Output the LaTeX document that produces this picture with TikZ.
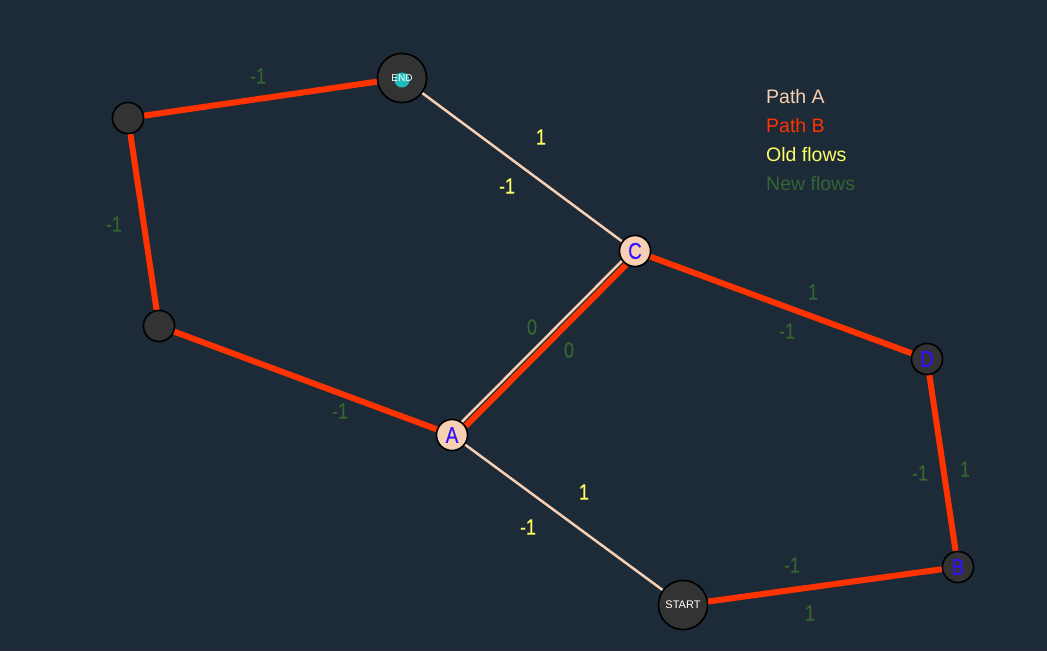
\documentclass[tikz,border=0pt]{standalone}
\usepackage{fontspec}
\setmainfont{Liberation Sans}
\newfontfamily\condfont[FakeStretch=0.82,FakeBold=0.4]{Liberation Sans}
\definecolor{bg}{HTML}{1D2A38}
\definecolor{peach}{HTML}{F7CFB2}
\definecolor{pathb}{HTML}{FF3300}
\definecolor{oldf}{HTML}{FFFF66}
\definecolor{newf}{HTML}{336633}
\definecolor{nodegray}{HTML}{333333}
\definecolor{nodetext}{HTML}{3311FF}
\definecolor{teal}{HTML}{22BBBB}
\begin{document}
\begin{tikzpicture}[x=1pt,y=-1pt,
  vtx/.style={circle,draw=black,line width=1.5pt,fill=nodegray,minimum size=31pt,inner sep=0pt,text=nodetext,font=\condfont\fontsize{23}{23}\selectfont},
  pvtx/.style={vtx,fill=peach},
  bigvtx/.style={circle,draw=black,line width=1.5pt,fill=nodegray,minimum size=49pt,inner sep=0pt,text=white},
  redge/.style={draw=pathb,line width=6pt},
  pedge/.style={draw=peach,line width=2.5pt},
  nlab/.style={text=newf,font=\condfont\fontsize{22}{22}\selectfont,inner sep=0pt},
  olab/.style={text=oldf,font=\condfont\fontsize{22}{22}\selectfont,inner sep=0pt},
  leg/.style={anchor=west,font=\fontsize{19.5}{19.5}\selectfont,inner sep=0pt}]
\fill[bg] (0,0) rectangle (1047,651);
\useasboundingbox (0,0) rectangle (1047,651);
% nodes (placed first to name them)
\node[bigvtx] (END) at (402,78) {};
\node[vtx] (TL) at (128,118) {};
\node[vtx] (L) at (159,326) {};
\node[pvtx] (A) at (452,435) {};
\node[pvtx] (C) at (635,251) {};
\node[vtx] (D) at (927,359) {};
\node[vtx] (B) at (958,567) {};
\node[bigvtx] (START) at (683,605) {};
% edges
\path[redge] (TL) -- (END);
\path[pedge] (END) -- (C);
\path[redge] (C) -- (D);
\path[redge] (D) -- (B);
\path[redge] (B) -- (START);
\path[pedge] (START) -- (A);
\path[redge] (L) -- (A);
\path[redge] (TL) -- (L);
\path[pedge,transform canvas={xshift=-1.6pt,yshift=1.6pt}] (A) -- (C);
\path[redge,transform canvas={xshift=2.4pt,yshift=-2.4pt}] (A) -- (C);
% nodes drawn on top of edges
\node[bigvtx] (ENDc) at (END) {};
\fill[teal] (402,80) circle (7.5);
\node[text=white,font=\fontsize{10}{10}\selectfont] (ENDt) at (END) {END};
\node[vtx] (TLc) at (TL) {};
\node[vtx] (Lc) at (L) {};
\node[pvtx] (Ac) at (A) {A};
\node[pvtx] (Cc) at (C) {C};
\node[vtx] (Dc) at (D) {D};
\node[vtx] (Bc) at (B) {B};
\node[bigvtx,font=\fontsize{11}{11}\selectfont] (STARTc) at (START) {START};
% labels
\node[nlab] (l1) at (258,76) {-1};
\node[olab] (l2) at (541,137) {1};
\node[olab] (l3) at (507,186) {-1};
\node[nlab] (l4) at (114,224) {-1};
\node[nlab] (l5) at (340,411) {-1};
\node[nlab] (l6) at (532,327) {0};
\node[nlab] (l7) at (569,350) {0};
\node[nlab] (l8) at (813,292) {1};
\node[nlab] (l9) at (787,331) {-1};
\node[nlab] (l10) at (920,473) {-1};
\node[nlab] (l11) at (965,469) {1};
\node[nlab] (l12) at (792,565) {-1};
\node[nlab] (l13) at (810,613) {1};
\node[olab] (l14) at (584,492) {1};
\node[olab] (l15) at (528,527) {-1};
% legend
\node[leg,text=peach] (lgA) at (766,97) {Path A};
\node[leg,text=pathb] (lgB) at (766,126) {Path B};
\node[leg,text=oldf] (lgO) at (766,155) {Old flows};
\node[leg,text=newf] (lgN) at (766,184) {New flows};
\end{tikzpicture}
\end{document}
